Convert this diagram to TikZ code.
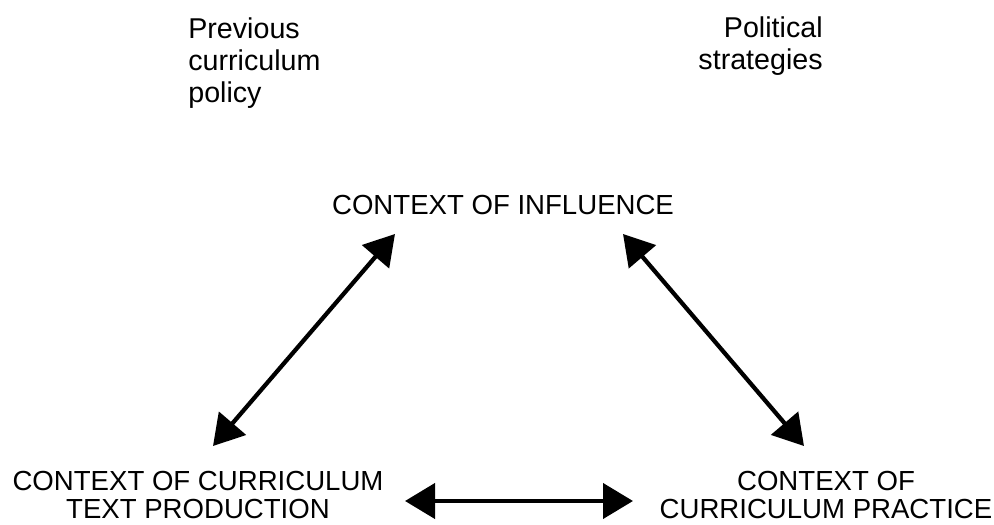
\documentclass[tikz,border=0pt]{standalone}
\usepackage{fontspec}
\setmainfont{Liberation Sans}
\usetikzlibrary{arrows.meta}
\tikzset{
  ctx/.style={inner sep=0pt, align=center, font=\fontsize{15.7}{16}\selectfont},
  src/.style={inner sep=0pt, font=\fontsize{16.3}{18.3}\selectfont},
  link/.style={line width=0.85mm, {Triangle[length=6mm,width=7mm]}-{Triangle[length=6mm,width=7mm]}}
}
\begin{document}
\begin{tikzpicture}[x=0.2mm, y=-0.2mm]
                % 外枠
                \useasboundingbox (0,0) rectangle (994,525);

                % 上の二つのラベル
                \node[src, anchor=west, align=left] (prev) at (188,63) {Previous\\curriculum\\policy};
                \node[src, anchor=east, align=right] (polit) at (823,46) {Political\\strategies};

                % 三つのコンテクスト
                \node[ctx] (infl) at (503,205) {CONTEXT OF INFLUENCE};
                \node[ctx] (prod) at (198,495) {CONTEXT OF CURRICULUM\\TEXT PRODUCTION};
                \node[ctx] (prac) at (826,495) {CONTEXT OF\\CURRICULUM PRACTICE};

                % 矢印の端点
                \coordinate (inflL) at (395,234);
                \coordinate (inflR) at (623,234);
                \coordinate (prodT) at (213,446);
                \coordinate (pracT) at (804,446);
                \coordinate (prodR) at (405,501);
                \coordinate (pracL) at (633,501);

                % 両矢印
                \draw[link] (inflL) -- (prodT);
                \draw[link] (inflR) -- (pracT);
                \draw[link] (prodR) -- (pracL);
\end{tikzpicture}
\end{document}
